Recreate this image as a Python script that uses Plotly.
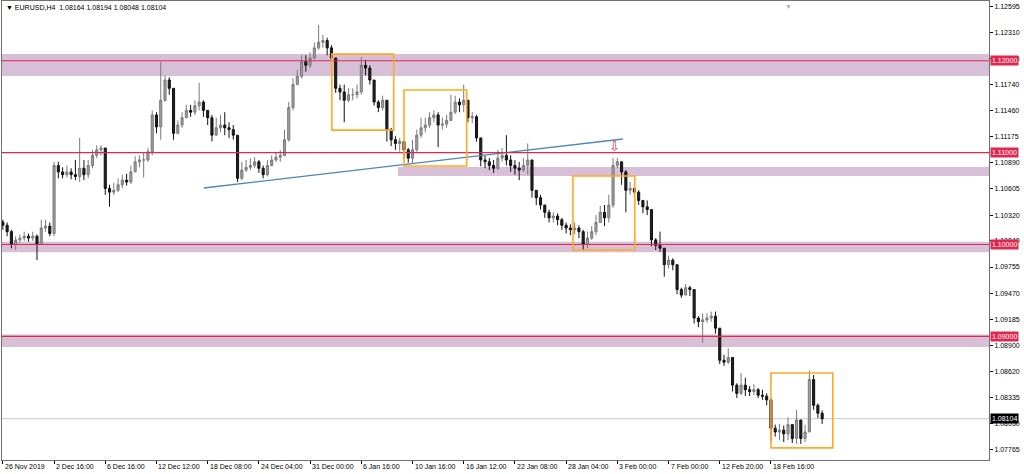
import plotly.graph_objects as go

# ---------------- data ----------------
first_open = 1.10245
closes = [1.1021, 1.1014, 1.1000, 1.1005, 1.1007, 1.1009, 1.1007, 1.1009, 1.1000, 1.1018,
          1.1020, 1.1012, 1.1086, 1.1079, 1.1076, 1.1079, 1.1076, 1.1074, 1.1083, 1.1076,
          1.1086, 1.1097, 1.1103, 1.1105, 1.1061, 1.1057, 1.1059, 1.1065, 1.1070, 1.1068,
          1.1079, 1.1090, 1.1092, 1.1092, 1.1101, 1.1141, 1.1128, 1.1157, 1.1179, 1.1170,
          1.1121, 1.1130, 1.1138, 1.1146, 1.1144, 1.1151, 1.1155, 1.1146, 1.1138, 1.1119,
          1.1127, 1.1130, 1.1127, 1.1125, 1.1119, 1.1072, 1.1081, 1.1084, 1.1086, 1.1090,
          1.1083, 1.1076, 1.1086, 1.1092, 1.1095, 1.1097, 1.1114, 1.1149, 1.1174, 1.1183,
          1.1199, 1.1195, 1.1203, 1.1214, 1.1220, 1.1222, 1.1214, 1.1203, 1.1170, 1.1166,
          1.1157, 1.1163, 1.1163, 1.1166, 1.1195, 1.1192, 1.1179, 1.1155, 1.1149, 1.1157,
          1.1125, 1.1114, 1.1110, 1.1112, 1.1103, 1.1094, 1.1103, 1.1119, 1.1127, 1.1130,
          1.1138, 1.1141, 1.1130, 1.1131, 1.1135, 1.1144, 1.1155, 1.1152, 1.1157, 1.1138,
          1.1139, 1.1116, 1.1092, 1.1090, 1.1086, 1.1083, 1.1094, 1.1097, 1.1092, 1.1086,
          1.1083, 1.1081, 1.1086, 1.1092, 1.1059, 1.1051, 1.1043, 1.1035, 1.1029, 1.1031,
          1.1027, 1.1021, 1.1018, 1.1016, 1.1018, 1.1014, 1.1000, 1.1007, 1.1014, 1.1024,
          1.1035, 1.1029, 1.1043, 1.1086, 1.1090, 1.1079, 1.1059, 1.1061, 1.1057, 1.1048,
          1.1041, 1.1038, 1.1005, 1.0999, 1.0996, 1.0978, 1.0983, 1.0978, 1.0951, 1.0945,
          1.0953, 1.0951, 1.0920, 1.0916, 1.0918, 1.0920, 1.0922, 1.0909, 1.0874, 1.0872,
          1.0877, 1.0847, 1.0838, 1.0847, 1.0842, 1.0840, 1.0842, 1.0836, 1.0835, 1.0831,
          1.0800, 1.0796, 1.0798, 1.0794, 1.0804, 1.0789, 1.0809, 1.0789, 1.0796, 1.0853,
          1.0825, 1.08164, 1.08104]
highs = [1.1027, 1.1024, 1.1016, 1.1009, 1.1011, 1.1014, 1.1012, 1.1014, 1.1011, 1.1027,
         1.1027, 1.1024, 1.1090, 1.1090, 1.1084, 1.1086, 1.1083, 1.1092, 1.1116, 1.1092,
         1.1092, 1.1103, 1.1108, 1.1108, 1.1105, 1.1065, 1.1067, 1.1072, 1.1076, 1.1077,
         1.1086, 1.1096, 1.1097, 1.1100, 1.1105, 1.1146, 1.1144, 1.1199, 1.1184, 1.1182,
         1.1170, 1.1135, 1.1144, 1.1152, 1.1152, 1.1157, 1.1176, 1.1157, 1.1146, 1.1141,
         1.1138, 1.1141, 1.1144, 1.1133, 1.1130, 1.1119, 1.1090, 1.1092, 1.1094, 1.1095,
         1.1092, 1.1086, 1.1092, 1.1097, 1.1100, 1.1103, 1.1125, 1.1155, 1.1181, 1.1190,
         1.1206, 1.1206, 1.1209, 1.1220, 1.1239, 1.1228, 1.1225, 1.1217, 1.1203, 1.1174,
         1.1174, 1.1170, 1.1170, 1.1174, 1.1204, 1.1201, 1.1195, 1.1179, 1.1157, 1.1162,
         1.1157, 1.1127, 1.1118, 1.1116, 1.1112, 1.1105, 1.1114, 1.1125, 1.1138, 1.1138,
         1.1144, 1.1146, 1.1144, 1.1138, 1.1141, 1.1163, 1.1162, 1.1159, 1.1174, 1.1157,
         1.1144, 1.1141, 1.1116, 1.1097, 1.1094, 1.1092, 1.1103, 1.1105, 1.1119, 1.1097,
         1.1092, 1.1090, 1.1094, 1.1110, 1.1092, 1.1059, 1.1054, 1.1043, 1.1038, 1.1035,
         1.1034, 1.1029, 1.1024, 1.1022, 1.1024, 1.1021, 1.1016, 1.1014, 1.1020, 1.1032,
         1.1042, 1.1043, 1.1054, 1.1094, 1.1094, 1.1090, 1.1081, 1.1068, 1.1065, 1.1059,
         1.1048, 1.1048, 1.1038, 1.1007, 1.1014, 1.0996, 1.0988, 1.0985, 1.0978, 1.0953,
         1.0957, 1.0955, 1.0951, 1.0922, 1.0925, 1.0925, 1.0927, 1.0927, 1.0909, 1.0880,
         1.0887, 1.0877, 1.0849, 1.0860, 1.0855, 1.0846, 1.0848, 1.0844, 1.0842, 1.0838,
         1.0833, 1.0804, 1.0805, 1.0803, 1.0812, 1.0804, 1.0820, 1.0809, 1.0804, 1.0863,
         1.0858, 1.0827, 1.08194]
lows = [1.1016, 1.1009, 1.0996, 1.0994, 1.1002, 1.1004, 1.1003, 1.1004, 1.0983, 1.1000,
        1.1014, 1.1009, 1.1009, 1.1072, 1.1072, 1.1073, 1.1071, 1.1070, 1.1068, 1.1070,
        1.1072, 1.1083, 1.1094, 1.1097, 1.1054, 1.1041, 1.1054, 1.1057, 1.1061, 1.1064,
        1.1066, 1.1079, 1.1084, 1.1073, 1.1090, 1.1097, 1.1121, 1.1114, 1.1155, 1.1163,
        1.1114, 1.1120, 1.1127, 1.1138, 1.1139, 1.1141, 1.1146, 1.1139, 1.1130, 1.1112,
        1.1119, 1.1122, 1.1119, 1.1116, 1.1114, 1.1068, 1.1070, 1.1079, 1.1081, 1.1083,
        1.1078, 1.1072, 1.1074, 1.1085, 1.1090, 1.1090, 1.1096, 1.1112, 1.1146, 1.1174,
        1.1181, 1.1188, 1.1192, 1.1201, 1.1212, 1.1214, 1.1206, 1.1199, 1.1165, 1.1157,
        1.1133, 1.1155, 1.1157, 1.1159, 1.1163, 1.1184, 1.1174, 1.1151, 1.1144, 1.1146,
        1.1112, 1.1107, 1.1103, 1.1101, 1.1094, 1.1089, 1.1088, 1.1101, 1.1116, 1.1122,
        1.1127, 1.1133, 1.1106, 1.1125, 1.1127, 1.1135, 1.1142, 1.1144, 1.1144, 1.1133,
        1.1132, 1.1112, 1.1085, 1.1083, 1.1081, 1.1078, 1.1081, 1.1090, 1.1086, 1.1079,
        1.1076, 1.1070, 1.1079, 1.1076, 1.1051, 1.1043, 1.1038, 1.1029, 1.1024, 1.1024,
        1.1021, 1.1016, 1.1012, 1.1010, 1.1011, 1.1007, 1.0994, 1.0996, 1.1005, 1.1010,
        1.1024, 1.1020, 1.1024, 1.1040, 1.1083, 1.1065, 1.1035, 1.1054, 1.1051, 1.1043,
        1.1034, 1.1032, 1.0998, 1.0994, 1.0992, 1.0965, 1.0974, 1.0972, 1.0946, 1.0942,
        1.0945, 1.0944, 1.0914, 1.0910, 1.0893, 1.0915, 1.0916, 1.0903, 1.0870, 1.0868,
        1.0870, 1.0840, 1.0833, 1.0836, 1.0835, 1.0835, 1.0836, 1.0833, 1.0831, 1.0825,
        1.0786, 1.0791, 1.0787, 1.0785, 1.0787, 1.0784, 1.0783, 1.0783, 1.0785, 1.0796,
        1.0820, 1.0811, 1.08048]
opens = [first_open] + closes[:-1]
bars = list(range(len(closes)))

time_tick_bars = [0, 12, 24, 36, 48, 60, 72, 84, 96, 108, 120, 132, 144, 156, 168, 180]
time_tick_labels = ["26 Nov 2019", "2 Dec 16:00", "6 Dec 16:00", "12 Dec 12:00", "18 Dec 08:00",
                    "24 Dec 04:00", "31 Dec 00:00", "6 Jan 16:00", "10 Jan 16:00", "16 Jan 12:00",
                    "22 Jan 08:00", "28 Jan 04:00", "3 Feb 00:00", "7 Feb 00:00", "12 Feb 20:00",
                    "18 Feb 16:00"]
price_ticks = [1.12595, 1.12310, 1.12025, 1.11740, 1.11460, 1.11175, 1.10890, 1.10605, 1.10320,
               1.10040, 1.09755, 1.09470, 1.09185, 1.08900, 1.08620, 1.08335, 1.08050, 1.07765]

round_levels = [1.12000, 1.11000, 1.10000, 1.09000]
last_price = 1.08104
# zones: (start bar or None for full width, top, bottom)
zones = [(None, 1.12072, 1.11833), (92.6, 1.10843, 1.10745),
         (None, 1.10030, 1.09915), (None, 1.09020, 1.08885)]
# orange boxes: (bar0, bar1, top, bottom)
boxes = [(77.1, 91.6, 1.12072, 1.11245), (94.0, 108.7, 1.11681, 1.10854),
         (133.6, 148.1, 1.10745, 1.09940), (180.0, 194.5, 1.08602, 1.07787)]
trend_bars = [47.1, 145.3]
trend_prices = [1.10615, 1.11148]
arrow_bar, arrow_price = 143.4, 1.1107
title_text = "▼ EURUSD,H4  1.08164 1.08194 1.08048 1.08104"

# ---------------- figure ----------------
FONT = "Liberation Sans, Arial, sans-serif"
fig = go.Figure()
fig.add_trace(go.Candlestick(
    x=bars, open=opens, high=highs, low=lows, close=closes,
    increasing=dict(line=dict(color="#7a7a7a", width=1), fillcolor="#a0a0a0"),
    decreasing=dict(line=dict(color="#111111", width=1), fillcolor="#222222"),
    whiskerwidth=0, hoverinfo="skip", showlegend=False))

fig.add_trace(go.Scatter(x=trend_bars, y=trend_prices, mode="lines",
                         line=dict(color="#4a86b8", width=1.3), hoverinfo="skip",
                         showlegend=False))

shapes = []
for start, top, bot in zones:
    if start is None:
        shapes.append(dict(type="rect", xref="paper", yref="y", x0=0, x1=1, y0=bot, y1=top,
                           fillcolor="#d8bfd8", line=dict(width=0), layer="below"))
    else:
        shapes.append(dict(type="rect", xref="x", yref="y", x0=start, x1=231.1, y0=bot, y1=top,
                           fillcolor="#d8bfd8", line=dict(width=0), layer="below"))
for lvl in round_levels:
    shapes.append(dict(type="line", xref="paper", yref="y", x0=0, x1=1, y0=lvl, y1=lvl,
                       line=dict(color="#e0284f", width=1.2), layer="above"))
shapes.append(dict(type="line", xref="paper", yref="y", x0=0, x1=1, y0=last_price, y1=last_price,
                   line=dict(color="#c8c8c8", width=1), layer="below"))
for b0, b1, top, bot in boxes:
    shapes.append(dict(type="rect", xref="x", yref="y", x0=b0, x1=b1, y0=bot, y1=top,
                       line=dict(color="#ffaa22", width=1.6), fillcolor="rgba(0,0,0,0)",
                       layer="above"))
fig.update_layout(shapes=shapes)

ann = []
for b, t in zip(time_tick_bars, time_tick_labels):
    ann.append(dict(x=b, xref="x", y=0, yref="paper", yanchor="top", xanchor="left",
                    text=t, showarrow=False, xshift=0, yshift=-1,
                    font=dict(family=FONT, size=7, color="#000000")))
for lvl in round_levels:
    ann.append(dict(x=1, xref="paper", y=lvl, yref="y", xanchor="left", yanchor="middle",
                    text=f"{lvl:.5f}", showarrow=False, bgcolor="#e0284f", borderpad=1,
                    xshift=1, font=dict(family=FONT, size=7, color="#ffffff")))
ann.append(dict(x=1, xref="paper", y=last_price, yref="y", xanchor="left", yanchor="middle",
                text=f"{last_price:.5f}", showarrow=False, bgcolor="#000000", borderpad=1,
                xshift=1, font=dict(family=FONT, size=7, color="#ffffff")))
ann.append(dict(x=0, xref="paper", y=1, yref="paper", xanchor="left", yanchor="top",
                text=title_text, showarrow=False, xshift=2, yshift=-1,
                font=dict(family=FONT, size=7, color="#000000")))
ann.append(dict(x=0.797, xref="paper", y=1, yref="paper", xanchor="center", yanchor="top",
                text="▼", showarrow=False, yshift=0,
                font=dict(family=FONT, size=7, color="#b0b0b0")))
ann.append(dict(x=arrow_bar, xref="x", y=arrow_price, yref="y", text="⇩", showarrow=False,
                font=dict(family="DejaVu Sans", size=13, color="#e0284f")))
fig.update_layout(annotations=ann)

fig.update_layout(
    width=1024, height=474,
    margin=dict(l=2, r=35, t=1, b=14),
    paper_bgcolor="#ffffff", plot_bgcolor="#ffffff",
    font=dict(family=FONT, size=7, color="#000000"),
    showlegend=False,
    xaxis=dict(range=[-0.2, 231.1], rangeslider=dict(visible=False), showgrid=False,
               zeroline=False, showline=True, linecolor="#707070", linewidth=1, mirror=True,
               tickvals=time_tick_bars, ticks="outside", ticklen=3, tickcolor="#000000",
               showticklabels=False, fixedrange=True),
    yaxis=dict(range=[1.07655, 1.12650], side="right", showgrid=False, zeroline=False,
               showline=True, linecolor="#707070", linewidth=1, mirror=True,
               tickvals=price_ticks, ticktext=[f"{v:.5f}" for v in price_ticks],
               ticks="outside", ticklen=3, tickcolor="#000000",
               tickfont=dict(family=FONT, size=7, color="#000000"), fixedrange=True),
)

fig.write_html("out.html", config={"displayModeBar": False},
               post_script="document.body.style.margin='0px';document.body.style.overflow='hidden';")
